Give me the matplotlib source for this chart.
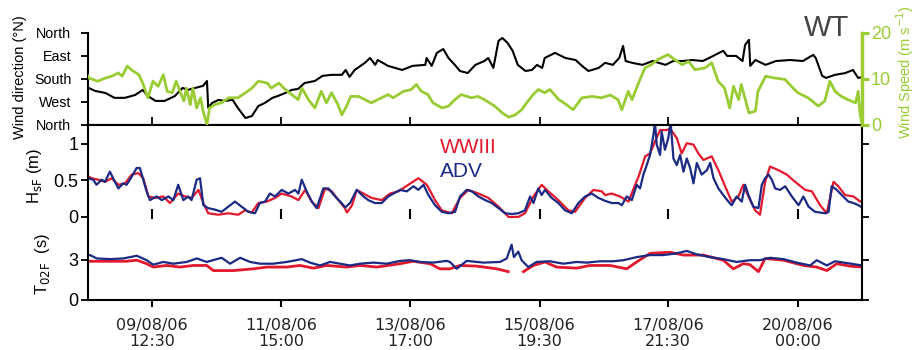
import numpy as np
import matplotlib
matplotlib.use('Agg')
import matplotlib.pyplot as plt

plt.rcParams['font.family'] = ['Liberation Sans', 'DejaVu Sans']

# time in hours since 08/08/06 00:00
tick_hours = [36.5, 87, 137, 187.5, 237.5, 288]
tick_labels = ['09/08/06\n12:30', '11/08/06\n15:00', '13/08/06\n17:00',
               '15/08/06\n19:30', '17/08/06\n21:30', '20/08/06\n00:00']

# wind direction (deg from North)
dir_t = [11, 14.5, 18.5, 22, 26, 30, 33, 35, 38, 41.5, 45.5, 48.5, 50.5, 53.5, 56.5, 58, 58.5, 60,
         62.5, 65, 68, 70, 73, 75.5, 78, 80.5, 83.5, 85.5, 88.5, 91, 93.5, 96, 100, 103, 106.5,
         110.5, 112, 113.5, 115.5, 119.5, 121.5, 123.5, 124.5, 128.5, 134, 138, 143, 143.5, 145.5,
         147.5, 150, 152, 154.5, 156.5, 159.5, 162.5, 166, 167.5, 169.5, 171.5, 173, 175, 177, 179,
         182, 184.5, 186.5, 188.5, 189.5, 193.5, 197.5, 201.5, 204, 206.5, 210.5, 213, 216, 218.5,
         220, 221, 223.5, 227.5, 231.5, 236.5, 239.5, 243, 247, 251, 253.5, 259, 260.5, 264, 266.5,
         267.5, 269, 269.5, 271.5, 275.5, 279.5, 285, 290, 294, 295, 297.5, 299, 302.5, 306.5,
         309.5, 311.5, 313.5]
dir_deg = [211, 227, 235, 254, 254, 243, 223, 247, 266, 266, 247, 215, 223, 215, 207, 188, 293, 274,
           262, 266, 262, 293, 333, 325, 286, 274, 254, 247, 235, 223, 219, 196, 188, 168, 164,
           164, 145, 172, 145, 117, 98, 125, 106, 129, 145, 129, 125, 98, 129,
           78, 63, 98, 125, 149, 157, 125, 110, 98, 137, 31, 20, 39, 70, 125,
           149, 145, 125, 137, 98, 78, 98, 106, 129, 149, 137, 117, 125, 98,
           51, 110, 117, 125, 110, 125, 110, 110, 106, 110, 98, 70, 90, 90, 110,
           47, 27, 129, 106, 125, 110, 106, 110, 86, 98, 168, 176, 164, 157,
           145, 176, 172]

# wind speed (m/s)
ws_t = [11, 12, 15.5, 18.5, 21, 23.5, 25, 27, 28.5, 31.5, 33, 35, 37, 39, 41, 42.5, 44.5, 46, 47.5,
        49, 50, 51.5, 52.5, 54, 55.5, 56.5, 58, 59, 61, 63.5, 66.5, 70, 73, 75.5, 78, 81.5, 83, 86,
        88.5, 91, 93.5, 95, 97.5, 100, 102.5, 104.5, 106.5, 109, 110.5, 112, 114, 117, 119.5, 122,
        124.5, 128.5, 130.5, 134.5, 137.5, 139.5, 141.5, 144, 146, 149.5, 152, 154.5, 157, 161,
        163.5, 166, 170, 173, 175.5, 178, 180.5, 183, 185, 187, 189.5, 191.5, 195, 198, 200.5, 204,
        208, 211.5, 215, 218, 219.5, 222, 223.5, 226, 228.5, 231, 233.5, 237.5, 240, 243, 245.5,
        248, 252, 254.5, 257, 259.5, 261.5, 263, 265, 266, 269, 271.5, 272.5, 275.5, 279, 283,
        285.5, 288, 292, 296, 298.5, 300.5, 302.5, 305, 307.5, 310.5, 311.5, 312.3, 313]
ws = [11.3, 10.2, 9.5, 10.2, 10.6, 11.3, 10.6, 12.8, 12.0, 10.9, 9.1, 5.9, 9.5, 8.4, 10.9, 7.3, 7.0, 9.5, 7.3,
      5.2, 8.0, 4.4, 8.0, 3.7, 5.9, 3.0, 0.1, 3.7, 4.4, 4.8, 5.9, 5.9, 7.0, 8.0, 9.5, 9.1, 8.0, 9.1,
      7.7, 6.6, 5.5, 8.0, 5.5, 3.7, 7.3, 4.8, 7.0, 4.4, 2.2, 3.7, 6.2, 6.2, 5.5, 4.8,
      5.5, 6.6, 5.9, 7.3, 7.7, 8.8, 7.3, 6.6, 4.8, 3.7, 4.1, 5.5, 6.6, 5.9,
      6.2, 5.5, 4.1, 2.6, 1.7, 2.2, 3.3, 5.2, 6.6, 7.7, 7.0, 7.7, 5.5, 4.4, 3.3, 5.9,
      6.2, 5.9, 6.5, 5.5, 3.3, 7.3, 5.5, 9.1, 12.4, 13.1, 14.2, 15.3, 14.2, 13.1, 13.8,
      12.0, 12.4, 13.5, 9.5, 8.0, 3.7, 8.4, 5.5, 8.8, 2.6, 3.0, 7.3, 10.6, 10.2, 9.9,
      8.4, 7.0, 5.9, 4.1, 5.2, 9.5, 7.3, 6.2, 5.5, 4.8, 7.3, 2.2, 0.3]

# significant wave height (m), ADV measurements
hs_adv_t = [10.5, 11.8, 13.7, 15, 17, 18.3, 20.2, 22.2, 23.5, 25.4, 26.7, 28.7, 30.6, 31.9, 33.2, 34.5,
            35.8, 38.4, 40.4, 43, 44.9, 46.8, 48.8, 50.7, 52, 54, 55.3, 56.6, 58.5, 61.1, 63.7, 66.3,
            68.9, 71.5, 74.1, 76.7, 78.6, 80.6, 82.5, 84.5, 87.1, 89.7, 92.3, 93.6, 94.9, 96.8, 98.8,
            100.7, 103.3, 105.3, 107.9, 110.4, 111.8, 113.7, 116.3, 118.9, 120.8, 123.4, 126, 128.6,
            130.6, 133.2, 135.8, 138.4, 140.3, 142.3, 144.2, 146.8, 149.4, 152, 154.6, 156.5, 159.1,
            161.1, 163.7, 166.3, 168.9, 171.5, 174.1, 176.7, 179.2, 181.8, 183.8, 185.1, 187, 188.3,
            189.6, 192.2, 194.8, 197.4, 200, 202.6, 205.2, 207.8, 210.4, 213, 215.6, 218.2, 219.5,
            221.4, 223.4, 225.3, 226.6, 227.9, 229.2, 230.5, 231.8, 232.4, 233.1, 234.4, 235, 236.3,
            237.6, 238.5, 239.6, 240.9, 242.2, 243.5, 244.8, 246.1, 247.4, 248.7, 250.6, 252.6, 253.9,
            255.2, 257.1, 259, 261, 262.3, 264.2, 266.2, 267.5, 268.8, 270.7, 272.7, 274, 275.3, 276.6,
            277.9, 279.2, 281.1, 283.1, 285.7, 288.3, 290.2, 292.2, 294.7, 298.6, 300, 301.2, 303.2,
            305.1, 307.7, 309.7, 311.6, 313]
hs_adv = [0.42, 0.53, 0.51, 0.44, 0.51, 0.48, 0.62, 0.48, 0.39, 0.46, 0.44, 0.55, 0.67, 0.67, 0.51, 0.35,
          0.23, 0.28, 0.23, 0.28, 0.23, 0.44, 0.23, 0.28, 0.23, 0.51, 0.53, 0.16, 0.12, 0.10, 0.07, 0.14,
          0.21, 0.14, 0.07, 0.05, 0.19, 0.21, 0.32, 0.28, 0.37, 0.32, 0.37, 0.32, 0.51, 0.35, 0.21,
          0.12, 0.39, 0.39, 0.28, 0.19, 0.13, 0.19, 0.37, 0.28, 0.23, 0.19, 0.19, 0.28,
          0.32, 0.37, 0.35, 0.42, 0.37, 0.44, 0.30, 0.16, 0.07, 0.05, 0.07, 0.28, 0.37,
          0.35, 0.28, 0.23, 0.19, 0.12, 0.05, 0.04, 0.05, 0.09, 0.28, 0.19, 0.39, 0.30,
          0.37, 0.26, 0.19, 0.09, 0.05, 0.19, 0.28, 0.32, 0.26, 0.22, 0.19, 0.19, 0.16,
          0.28, 0.23, 0.44, 0.39, 0.58, 0.71, 0.85, 1.12, 1.3, 0.99, 0.85, 1.17, 0.92,
          1.08, 1.3, 0.80, 0.71, 0.85, 0.62, 0.80, 0.67, 0.46, 0.74, 0.58, 0.64, 0.74,
          0.53, 0.39, 0.30, 0.21, 0.16, 0.28, 0.21, 0.44, 0.30, 0.14, 0.12, 0.44, 0.53, 0.58,
          0.51, 0.39, 0.37, 0.42, 0.28, 0.16, 0.28, 0.14, 0.07, 0.05, 0.07, 0.42, 0.37,
          0.30, 0.21, 0.19, 0.16, 0.13]

# significant wave height (m), WWIII model
hs_ww3_t = [10.5, 13.1, 15.7, 18.3, 20.9, 23.5, 26.1, 28.7, 31.3, 33.2, 35.2, 37.8, 41, 43.6, 46.8, 49.5,
            52, 54.7, 56.6, 58.5, 62.4, 66.3, 70.2, 72.8, 75.4, 78, 81.3, 84.5, 87.1, 91, 93.6, 96.2,
            98.8, 101.4, 104, 106.6, 109.2, 111.7, 112.5, 114.5, 116.3, 118.9, 122.1, 126, 129.3, 132.5,
            136.4, 140.3, 143.6, 146.8, 149.4, 153.3, 156.5, 159.8, 163.7, 167.6, 171.5, 175.4, 179.2,
            181.8, 185.1, 188.3, 190.9, 194.8, 198.7, 201.3, 205.2, 208.5, 211.7, 213, 215.6, 218.8,
            222.1, 224.7, 226, 228.6, 230.5, 232.4, 234.4, 237, 238.3, 240.9, 242.8, 244.8, 247.4,
            249.3, 251.3, 254.5, 257.1, 259.7, 262.3, 264.9, 266.8, 268.8, 271.4, 273.3, 275.3, 277.2,
            280.5, 283.7, 287, 290.9, 293.5, 296.7, 299.3, 301.9, 303.8, 306.4, 309.7, 312.3, 313]
hs_ww3 = [0.58, 0.53, 0.51, 0.48, 0.53, 0.44, 0.46, 0.58, 0.60, 0.53, 0.28, 0.26, 0.28, 0.19, 0.32, 0.28,
          0.26, 0.37, 0.19, 0.05, 0.03, 0.05, 0.03, 0.09, 0.06, 0.19, 0.21, 0.26, 0.32, 0.28, 0.23, 0.37,
          0.21, 0.12, 0.39, 0.35, 0.23, 0.12, 0.06, 0.16, 0.37, 0.32, 0.26, 0.23, 0.32, 0.35,
          0.44, 0.53, 0.44, 0.23, 0.09, 0.05, 0.26, 0.37, 0.32, 0.26, 0.14, 0.0, 0.0,
          0.05, 0.28, 0.44, 0.35, 0.23, 0.09, 0.07, 0.26, 0.37, 0.35, 0.30, 0.32, 0.28,
          0.21, 0.44, 0.55, 0.83, 0.87, 1.03, 1.19, 1.19, 1.21, 1.08, 0.87, 1.01, 0.99,
          0.87, 0.78, 0.83, 0.64, 0.42, 0.21, 0.28, 0.44, 0.28, 0.09, 0.03, 0.48, 0.69,
          0.64, 0.58, 0.48, 0.37, 0.35, 0.16, 0.05, 0.48, 0.42, 0.30, 0.28, 0.21, 0.21]

# mean wave period T02 (s), ADV measurements
t02_adv_t = [11, 12.5, 15.1, 20.3, 25.4, 30.7, 34.5, 37.1, 41, 44.9, 50.1, 54, 57.9, 63.7, 67, 70.9,
             74.8, 78.7, 83.8, 89.1, 94.9, 98.1, 102, 105.9, 109.8, 113.7, 117.6, 122.8, 128, 133.2,
             137.1, 140.9, 146.1, 151.3, 152.6, 155.2, 159.1, 165.6, 172.1, 174.7, 176.6, 177.5, 179.2,
             180.5, 183.1, 186.3, 191.5, 196.7, 201.9, 205.8, 211, 216.2, 220.1, 225.3, 230.5, 235.7,
             240.9, 244.8, 248.7, 253.8, 259, 264.2, 269.4, 273.3, 277.2, 282.4, 287.6, 292.8, 295.4,
             299.3, 302.5, 307.1, 313]
t02_adv = [3.33, 3.33, 3.08, 3.03, 3.08, 3.28, 2.95, 2.62, 2.82, 2.69, 2.82, 3.08, 2.82, 3.13, 2.69, 3.13,
           2.82, 2.69, 2.69, 2.82, 3.03, 2.77, 2.56, 2.82, 2.69, 2.56, 2.69, 2.77, 2.69, 2.9,
           2.95, 2.82, 2.77, 2.9, 2.82, 2.31, 2.9, 2.77, 2.82, 3.08, 4.1, 3.18, 3.59,
           2.95, 2.44, 2.82, 2.87, 2.69, 2.82, 2.77, 2.87, 2.87, 2.95, 3.18, 3.33, 3.33,
           3.46, 3.64, 3.38, 3.18, 3.03, 2.82, 2.95, 2.95, 3.13, 3.03, 2.77, 2.56, 2.95,
           2.56, 2.87, 2.74, 2.56]

# mean wave period T02 (s), WWIII model (gap around 15/08)
t02_ww3_t = [11, 12.5, 20.3, 26.7, 30.7, 34.5, 37.1, 42.3, 47.5, 52.7, 57.9, 60.5, 68.3, 76.1, 81.3, 89.1,
             94.2, 99.4, 104.6, 112.4, 117.6, 124.1, 133.2, 138.3, 144.8, 148.7, 152.6, 156.5, 163,
             170.8, 175.3, 178, 181.2, 185.1, 189.6, 194.1, 201.9, 207.1, 214.9, 221.4, 225.3, 230.5,
             238.3, 243.5, 251.2, 259, 262.9, 266.8, 269.4, 272.7, 275.3, 282.4, 290.2, 295.4, 299.3,
             303.2, 308.4, 313]
t02_ww3 = [2.87, 2.87, 2.87, 2.87, 2.95, 2.69, 2.44, 2.56, 2.44, 2.56, 2.56, 2.18, 2.18, 2.31, 2.44, 2.44,
           2.56, 2.36, 2.56, 2.44, 2.56, 2.44, 2.69, 2.87, 2.69, 2.31, 2.31, 2.56, 2.51,
           2.31, 2.10, np.nan, 2.10, 2.56, 2.82, 2.44, 2.36, 2.56, 2.56, 2.31, 2.82, 3.46,
           3.54, 3.33, 3.33, 2.95, 2.31, 2.69, 2.62, 2.10, 3.08, 2.95, 2.56, 2.44, 2.18,
           2.69, 2.51, 2.44]

RED = '#e3182d'
BLUE = '#1b2a84'
GREEN = '#99cc33'
XLIM = (11.7, 313.0)
W, H = 917, 350

fig = plt.figure(figsize=(9.17, 3.5), dpi=100)
ax1 = fig.add_axes([0.096, 0.643, 0.844, 0.263])
ax2 = fig.add_axes([0.096, 0.374, 0.844, 0.269])
ax3 = fig.add_axes([0.096, 0.143, 0.844, 0.231])

# --- wind panel ---
ax1.plot(dir_t, dir_deg, color='black', lw=1.5)
ax1.set_ylim(360, 0)
ax1.set_xlim(*XLIM)
ax1.set_yticks([0, 90, 180, 270, 360])
ax1.set_yticklabels(['North', 'East', 'South', 'West', 'North'], fontsize=10.3)
ax1.set_xticks(tick_hours)
ax1.set_xticklabels([])
for s in ['top', 'right']:
    ax1.spines[s].set_visible(False)
for s in ['left', 'bottom']:
    ax1.spines[s].set_linewidth(1.5)
ax1.tick_params(axis='y', direction='out', length=5, width=1.3, pad=7)
ax1.tick_params(axis='x', direction='in', length=6, width=1.3)

ax1t = ax1.twinx()
ax1t.plot(ws_t, ws, color=GREEN, lw=2.0)
ax1t.set_ylim(0, 20)
ax1t.set_xlim(*XLIM)
ax1t.set_yticks([0, 10, 20])
for s in ['top', 'left', 'bottom']:
    ax1t.spines[s].set_visible(False)
ax1t.spines['right'].set_color(GREEN)
ax1t.spines['right'].set_linewidth(2.5)
ax1t.tick_params(axis='y', colors=GREEN, labelcolor=GREEN, direction='out',
                 length=5, width=2.2, labelsize=13, pad=1.5)

# --- wave height panel ---
ax2.plot(hs_ww3_t, hs_ww3, color=RED, lw=1.6)
ax2.plot(hs_adv_t, hs_adv, color=BLUE, lw=1.6)
ax2.set_xlim(*XLIM)
ax2.set_ylim(-0.03, 1.26)
ax2.set_yticks([0, 0.5, 1])
ax2.set_yticklabels(['0', '0.5', '1'])
ax2.set_xticks(tick_hours)
ax2.set_xticklabels([])
ax2.spines['bottom'].set_visible(False)
for s in ['top', 'left', 'right']:
    ax2.spines[s].set_linewidth(1.5)
ax2.tick_params(axis='y', direction='out', length=5, width=1.3, labelsize=13, pad=2,
                right=True)
ax2.tick_params(axis='x', direction='in', length=7, width=1.5)
yt = ax2.yaxis.get_major_ticks()
yt[1].tick2line.set_visible(False)
yt[2].tick2line.set_color('#aaaaaa')
ax2.text(148.7, 0.95, 'WWIII', color=RED, fontsize=15, ha='left', va='center')
ax2.text(148.7, 0.62, 'ADV', color=BLUE, fontsize=15, ha='left', va='center')

# --- wave period panel ---
ax3.plot(t02_ww3_t, t02_ww3, color=RED, lw=2.0)
ax3.plot(t02_adv_t, t02_adv, color=BLUE, lw=1.6)
ax3.set_xlim(*XLIM)
ax3.set_ylim(0, 6.0)
ax3.set_yticks([0, 3])
ax3.set_xticks(tick_hours)
ax3.set_xticklabels(tick_labels, fontfamily='DejaVu Sans', fontsize=11.5, color='#222222',
                    linespacing=1.1)
ax3.spines['top'].set_visible(False)
for s in ['bottom', 'left', 'right']:
    ax3.spines[s].set_linewidth(1.5)
ax3.tick_params(axis='y', direction='out', length=5, width=1.3, labelsize=13, pad=2,
                right=True)
ax3.tick_params(axis='x', direction='out', length=5, width=1.5, pad=8)

# axis titles placed at fixed positions left/right of the panels
fig.text(20 / W, 1 - 77 / H, 'Wind direction (°N)', fontsize=10.5, rotation=90,
         ha='center', va='center')
fig.text(905 / W, 1 - 72 / H, 'Wind Speed (m s$^{-1}$)', fontsize=10.5, rotation=90,
         ha='center', va='center', color=GREEN)
fig.text(34 / W, 1 - 176 / H, 'H$_{\\mathrm{sF}}$ (m)', fontsize=12, rotation=90,
         ha='center', va='center')
fig.text(42 / W, 1 - 264 / H, 'T$_{\\mathrm{02F}}$  (s)', fontsize=12, rotation=90,
         ha='center', va='center')
fig.text(827 / W, 1 - 28 / H, 'WT', fontsize=21, color='#444444', ha='center', va='center')

fig.savefig('out.png', dpi=100)
